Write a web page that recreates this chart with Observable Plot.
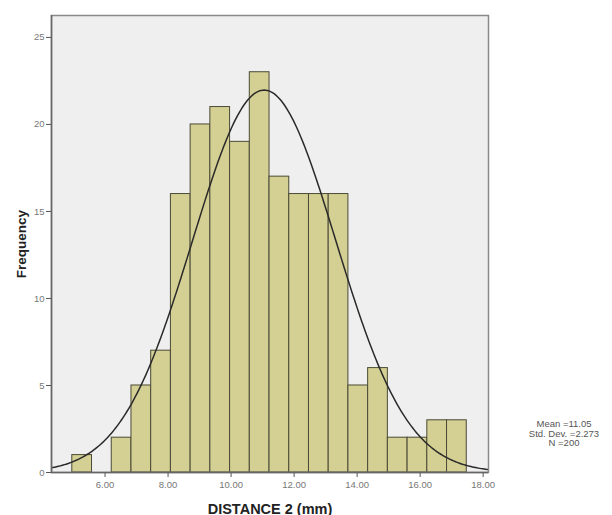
<!DOCTYPE html>
<html>
<head>
<meta charset="utf-8">
<script src="https://cdn.jsdelivr.net/npm/d3@7"></script>
<script src="https://cdn.jsdelivr.net/npm/@observablehq/plot@0.6"></script>
<style>
  html, body { margin: 0; padding: 0; background: #fff; overflow: hidden; }
  #wrap { position: relative; width: 612px; height: 515px; overflow: hidden; font-family: "Liberation Sans", Arial, sans-serif; }
  #stats { position: absolute; left: 504px; top: 419px; width: 120px; text-align: center;
           font-size: 9.5px; line-height: 9.5px; color: #555; white-space: nowrap; }
  svg text { font-family: "Liberation Sans", Arial, sans-serif; }
  g[aria-label="x-axis tick label"] text, g[aria-label="y-axis tick label"] text { fill: #777; font-size: 9.5px; }
</style>
</head>
<body>
<div id="wrap">
  <div id="chart"></div>
  <div id="stats"></div>
</div>
<script>
// ---- data ----
const binStart = 4.96;          // left edge of first bin (mm)
const binWidth = 0.626;         // bin width (mm)
const counts = [1, 0, 2, 5, 7, 16, 20, 21, 19, 23, 17, 16, 16, 16, 5, 6, 2, 2, 3, 3];
const statLabels = ["Mean =11.05", "Std. Dev. =2.273", "N =200"];
const meanVal = 11.05;
const sdVal = 2.273;
const nVal = 200;
const xTicks = [6, 8, 10, 12, 14, 16, 18];
const yTicks = [0, 5, 10, 15, 20, 25];
const xTitle = "DISTANCE 2 (mm)";
const yTitle = "Frequency";
const xDomain = [4.30, 18.17];
const yDomain = [0, 26.26];

// bins table
const bins = counts.map((c, i) => ({
  x1: binStart + i * binWidth,
  x2: binStart + (i + 1) * binWidth,
  count: c
})).filter(d => d.count > 0);

// fitted normal curve (scaled to counts per bin)
const steps = 300;
const curve = d3.range(steps + 1).map(i => {
  const x = xDomain[0] + (xDomain[1] - xDomain[0]) * i / steps;
  const z = (x - meanVal) / sdVal;
  const y = nVal * binWidth * Math.exp(-0.5 * z * z) / (sdVal * Math.sqrt(2 * Math.PI));
  return {x, y};
});

const chart = Plot.plot({
  width: 612,
  height: 515,
  marginLeft: 51,
  marginRight: 124,
  marginTop: 15,
  marginBottom: 43,
  style: {background: "transparent", fontSize: "9.5px"},
  x: {domain: xDomain},
  y: {domain: yDomain},
  marks: [
    Plot.frame({fill: "#efefef", stroke: null}),
    Plot.rectY(bins, {x1: "x1", x2: "x2", y: "count", fill: "#d4cf93", stroke: "#4a4a36", strokeWidth: 1, inset: 0}),
    Plot.line(curve, {x: "x", y: "y", stroke: "#2a2a2a", strokeWidth: 1.5, clip: true}),
    Plot.frame({stroke: "#8a8a8a", strokeWidth: 1.5}),
    Plot.axisX({ticks: xTicks, tickFormat: d3.format(".2f"), tickSize: 5, tickPadding: 4,
                stroke: "#555", label: null}),
    Plot.axisY({ticks: yTicks, tickSize: 5, tickPadding: 2, stroke: "#555", label: null}),
    Plot.ruleX([xDomain[0]], {stroke: "#666", strokeWidth: 1.5}),
    Plot.ruleY([0], {stroke: "#666", strokeWidth: 1.5}),
    Plot.text([xTitle], {text: d => d, frameAnchor: "bottom", textAnchor: "middle", dy: 41, fontSize: 14.5, fontWeight: "bold", fill: "#222", lineAnchor: "bottom"}),
    Plot.text([yTitle], {text: d => d, frameAnchor: "left", textAnchor: "middle", dx: -30, rotate: -90, fontSize: 13.5, fontWeight: "bold", fill: "#222"})
  ]
});
document.getElementById("chart").appendChild(chart);
document.getElementById("stats").innerHTML = statLabels.map(s => `<div>${s}</div>`).join("");
</script>
</body>
</html>
